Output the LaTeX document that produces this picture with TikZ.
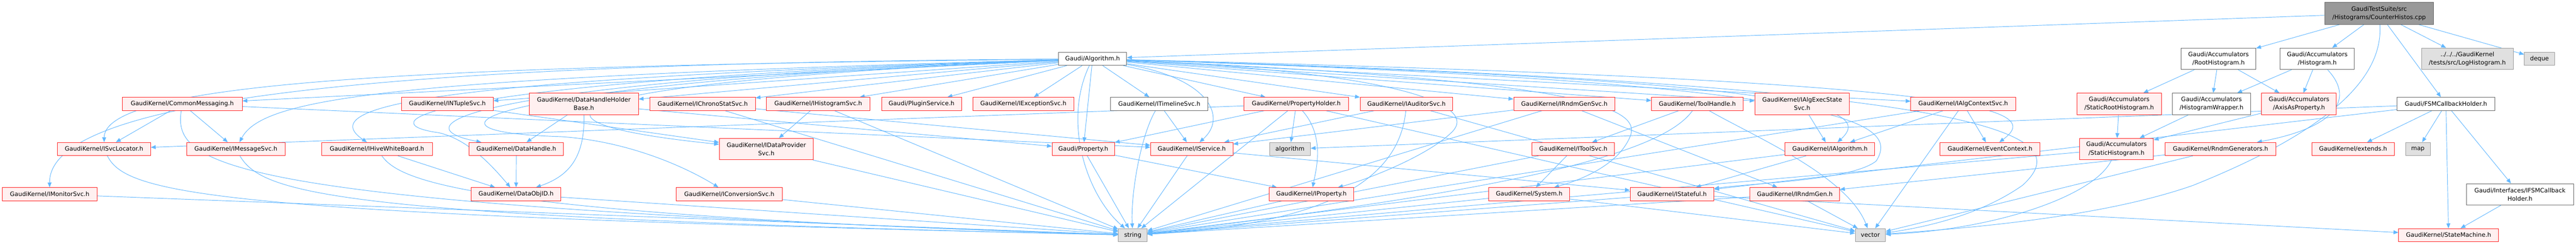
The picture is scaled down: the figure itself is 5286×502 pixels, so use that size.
\documentclass[tikz,border=0pt]{standalone}
\usepackage{fontspec}
\setmainfont{DejaVu Sans}
\usetikzlibrary{arrows.meta}
\definecolor{edgeblue}{HTML}{63B8FF}
\definecolor{truncfill}{HTML}{FFF0F0}
\definecolor{truncline}{HTML}{FF2020}
\definecolor{grayfill}{HTML}{E0E0E0}
\definecolor{grayline}{HTML}{999999}
\definecolor{darkline}{HTML}{666666}
\definecolor{rootfill}{HTML}{999999}
\pgfdeclarelayer{bg}
\pgfdeclarelayer{paper}
\pgfsetlayers{paper,bg,main}
\begin{document}
\begin{tikzpicture}[x=1pt,y=-1pt,
  nd/.style={draw, line width=1pt, inner sep=0pt, font=\fontsize{12.3}{17.3}\selectfont, align=center, text=black},
  trunc/.style={nd, draw=truncline, fill=truncfill},
  whitend/.style={nd, draw=darkline, fill=white},
  sysnd/.style={nd, draw=grayline, fill=grayfill},
  rootnd/.style={nd, draw=darkline, fill=rootfill},
  hone/.style={minimum height=27pt},
  htwo/.style={minimum height=44pt},
  edg/.style={draw=edgeblue, line width=1pt, -{Triangle[length=10pt,width=8pt]}}
]
\begin{pgfonlayer}{paper}
\fill[white] (0,0) rectangle (5286,502);
\end{pgfonlayer}
\useasboundingbox (0,0) rectangle (5286,502);

% row 0/1
\node[rootnd,minimum width=224pt,minimum height=45pt] (root) at (4882,27.5) {GaudiTestSuite/src\\/Histograms/CounterHistos.cpp};
\node[whitend,hone,minimum width=140pt] (alg) at (2242,120.5) {Gaudi/Algorithm.h};
\node[whitend,htwo,minimum width=153pt] (rooth) at (4552.5,120.5) {Gaudi/Accumulators\\/RootHistogram.h};
\node[whitend,htwo,minimum width=152pt] (histo) at (4755,120.5) {Gaudi/Accumulators\\/Histogram.h};
\node[sysnd,htwo,minimum width=188pt] (logh) at (5063,120.5) {../../../GaudiKernel\\/tests/src/LogHistogram.h};
\node[sysnd,hone,minimum width=62pt] (deque) at (5211,120.5) {deque};
% row 2
\node[trunc,hone,minimum width=246pt] (cmsg) at (374,213) {GaudiKernel/CommonMessaging.h};
\node[trunc,hone,minimum width=188pt] (ntuple) at (918,213) {GaudiKernel/INTupleSvc.h};
\node[trunc,htwo,minimum width=224pt] (dhhb) at (1198,213) {GaudiKernel/DataHandleHolder\\Base.h};
\node[trunc,hone,minimum width=216pt] (chrono) at (1442,213) {GaudiKernel/IChronoStatSvc.h};
\node[trunc,hone,minimum width=212pt] (histsvc) at (1679,213) {GaudiKernel/IHistogramSvc.h};
\node[trunc,hone,minimum width=164pt] (plugin) at (1891,213) {Gaudi/PluginService.h};
\node[trunc,hone,minimum width=208pt] (excsvc) at (2100,213) {GaudiKernel/IExceptionSvc.h};
\node[whitend,hone,minimum width=200pt] (timeline) at (2379,213) {GaudiKernel/ITimelineSvc.h};
\node[trunc,hone,minimum width=214pt] (propholder) at (2660,213) {GaudiKernel/PropertyHolder.h};
\node[trunc,hone,minimum width=190pt] (auditor) at (2886,213) {GaudiKernel/IAuditorSvc.h};
\node[trunc,hone,minimum width=208pt] (rndmsvc) at (3210,213) {GaudiKernel/IRndmGenSvc.h};
\node[trunc,hone,minimum width=188pt] (toolhandle) at (3483,213) {GaudiKernel/ToolHandle.h};
\node[trunc,htwo,minimum width=194pt] (execstate) at (3698,213) {GaudiKernel/IAlgExecState\\Svc.h};
\node[trunc,hone,minimum width=215pt] (algctx) at (4028.5,213) {GaudiKernel/IAlgContextSvc.h};
\node[trunc,htwo,minimum width=173pt] (staticroot) at (4348.5,213) {Gaudi/Accumulators\\/StaticRootHistogram.h};
\node[whitend,htwo,minimum width=160pt] (wrapper) at (4538,213) {Gaudi/Accumulators\\/HistogramWrapper.h};
\node[trunc,htwo,minimum width=153pt] (axis) at (4717.5,213) {Gaudi/Accumulators\\/AxisAsProperty.h};
\node[whitend,hone,minimum width=200pt] (fsm) at (5019,213) {Gaudi/FSMCallbackHolder.h};
% row 3
\node[trunc,hone,minimum width=191pt] (svcloc) at (213.5,305.5) {GaudiKernel/ISvcLocator.h};
\node[trunc,hone,minimum width=202pt] (msgsvc) at (484,305.5) {GaudiKernel/IMessageSvc.h};
\node[trunc,hone,minimum width=227pt] (hive) at (773.5,305.5) {GaudiKernel/IHiveWhiteBoard.h};
\node[trunc,hone,minimum width=193pt] (dhandle) at (1059.5,305.5) {GaudiKernel/DataHandle.h};
\node[trunc,htwo,minimum width=193pt] (dpsvc) at (1572.5,305.5) {GaudiKernel/IDataProvider\\Svc.h};
\node[trunc,hone,minimum width=128pt] (prop) at (2223,305.5) {Gaudi/Property.h};
\node[trunc,hone,minimum width=169pt] (service) at (2445.5,305.5) {GaudiKernel/IService.h};
\node[sysnd,hone,minimum width=84pt] (algorithm) at (2647,305.5) {algorithm};
\node[trunc,hone,minimum width=169pt] (toolsvc) at (3228.5,305.5) {GaudiKernel/IToolSvc.h};
\node[trunc,hone,minimum width=184pt] (ialg) at (3755,305.5) {GaudiKernel/IAlgorithm.h};
\node[trunc,hone,minimum width=205pt] (evctx) at (4083.5,305.5) {GaudiKernel/EventContext.h};
\node[trunc,htwo,minimum width=152pt] (statich) at (4343,305.5) {Gaudi/Accumulators\\/StaticHistogram.h};
\node[trunc,hone,minimum width=227pt] (rndmgens) at (4556.5,305.5) {GaudiKernel/RndmGenerators.h};
\node[trunc,hone,minimum width=169pt] (extends) at (4828.5,305.5) {GaudiKernel/extends.h};
\node[sysnd,hone,minimum width=51pt] (map) at (4961.5,305.5) {map};
% row 4
\node[trunc,hone,minimum width=194pt] (monsvc) at (102,398) {GaudiKernel/IMonitorSvc.h};
\node[trunc,hone,minimum width=184pt] (objid) at (1059,398) {GaudiKernel/DataObjID.h};
\node[trunc,hone,minimum width=217pt] (convsvc) at (1496.5,398) {GaudiKernel/IConversionSvc.h};
\node[trunc,hone,minimum width=174pt] (iprop) at (2691,398) {GaudiKernel/IProperty.h};
\node[trunc,hone,minimum width=166pt] (system) at (3138,398) {GaudiKernel/System.h};
\node[trunc,hone,minimum width=172pt] (stateful) at (3431,398) {GaudiKernel/IStateful.h};
\node[trunc,hone,minimum width=184pt] (rndmgen) at (3683,398) {GaudiKernel/IRndmGen.h};
\node[whitend,htwo,minimum width=220pt] (ifsm) at (5171,398.5) {Gaudi/Interfaces/IFSMCallback\\Holder.h};
% row 5
\node[sysnd,hone,minimum width=59pt] (string) at (2324.5,482) {string};
\node[sysnd,hone,minimum width=62pt] (vector) at (3838,482) {vector};
\node[trunc,hone,minimum width=205pt] (statemachine) at (5024.5,482) {GaudiKernel/StateMachine.h};

\begin{pgfonlayer}{bg}
% root
\draw[edg] (root) -- (alg);
\draw[edg] (root) -- (rooth);
\draw[edg] (root) -- (histo);
\draw[edg] (root) -- (logh);
\draw[edg] (root) -- (deque);
\draw[edg] (root) -- (fsm);
\draw[edg] (root) .. controls (4890,150) and (4800,260) .. (4500,380) .. controls (4300,450) and (4000,470) .. (vector);
% Algorithm.h
\draw[edg] (alg) .. controls (900,135) and (215,165) .. (svcloc);
\draw[edg] (alg) .. controls (800,130) and (100,200) .. (monsvc);
\draw[edg] (alg) .. controls (800,160) and (540,200) .. (msgsvc);
\draw[edg] (alg) .. controls (900,162) and (640,215) .. (hive);
\draw[edg] (alg) .. controls (900,165) and (740,250) .. (900,272) .. controls (960,285) and (1010,340) .. (objid);
\draw[edg] (alg) .. controls (1000,165) and (800,255) .. (dhandle);
\draw[edg] (alg) .. controls (1000,170) and (800,270) .. (1150,280) .. controls (1300,290) and (1420,350) .. (convsvc);
\draw[edg] (alg) .. controls (1100,170) and (1020,250) .. (dpsvc);
\draw[edg] (alg) -- (cmsg);
\draw[edg] (alg) -- (ntuple);
\draw[edg] (alg) -- (dhhb);
\draw[edg] (alg) -- (chrono);
\draw[edg] (alg) -- (histsvc);
\draw[edg] (alg) -- (plugin);
\draw[edg] (alg) -- (excsvc);
\draw[edg] (alg) -- (prop);
\draw[edg] (alg) -- (timeline);
\draw[edg] (alg) .. controls (2480,160) and (2520,240) .. (service);
\draw[edg] (alg) -- (propholder);
\draw[edg] (alg) -- (auditor);
\draw[edg] (alg) -- (rndmsvc);
\draw[edg] (alg) -- (toolhandle);
\draw[edg] (alg) -- (execstate);
\draw[edg] (alg) -- (algctx);
\draw[edg] (alg) .. controls (2900,150) and (3030,220) .. (2980,270) .. controls (2930,320) and (2800,370) .. (iprop);
\draw[edg] (alg) .. controls (3250,165) and (3370,220) .. (3345,280) .. controls (3320,340) and (3240,370) .. (system);
\draw[edg] (alg) .. controls (3700,165) and (3850,220) .. (ialg);
\draw[edg] (alg) .. controls (4050,165) and (4200,220) .. (evctx);
\draw[edg] (alg) .. controls (3800,170) and (3900,250) .. (3850,330) .. controls (3800,370) and (3600,375) .. (stateful);
\draw[edg] (alg) .. controls (4150,175) and (4260,280) .. (4150,380) .. controls (4050,450) and (3920,470) .. (vector);
\draw[edg] (alg) .. controls (2180,250) and (2230,400) .. (string);
% left part
\draw[edg] (cmsg) -- (svcloc);
\draw[edg] (cmsg) -- (msgsvc);
\draw[edg] (cmsg) -- (service);
\draw[edg] (cmsg) .. controls (355,340) and (450,420) .. (string);
\draw[edg] (svcloc) .. controls (260,400) and (450,440) .. (string);
\draw[edg] (monsvc) -- (string);
\draw[edg] (msgsvc) .. controls (540,400) and (700,445) .. (string);
\draw[edg] (hive) -- (objid);
\draw[edg] (hive) .. controls (820,370) and (950,440) .. (string);
\draw[edg] (dhhb) -- (dhandle);
\draw[edg] (dhhb) .. controls (1200,320) and (1170,360) .. (objid);
\draw[edg] (dhhb) -- (prop);
\draw[edg] (dhandle) -- (objid);
\draw[edg] (objid) -- (string);
\draw[edg] (ntuple) -- (dpsvc);
\draw[edg] (chrono) -- (service);
\draw[edg] (chrono) -- (string);
\draw[edg] (histsvc) -- (dpsvc);
\draw[edg] (histsvc) -- (string);
\draw[edg] (dpsvc) -- (string);
\draw[edg] (convsvc) -- (string);
% middle
\draw[edg] (prop) -- (iprop);
\draw[edg] (prop) -- (string);
\draw[edg] (timeline) -- (service);
\draw[edg] (timeline) .. controls (2340,280) and (2320,400) .. (string);
\draw[edg] (service) -- (stateful);
\draw[edg] (service) -- (string);
\draw[edg] (propholder) -- (prop);
\draw[edg] (propholder) -- (algorithm);
\draw[edg] (propholder) .. controls (2720,280) and (2700,350) .. (iprop);
\draw[edg] (propholder) -- (string);
\draw[edg] (propholder) -- (vector);
\draw[edg] (propholder) -- (svcloc);
\draw[edg] (auditor) -- (service);
\draw[edg] (auditor) .. controls (2870,380) and (2700,460) .. (string);
\draw[edg] (auditor) -- (vector);
\draw[edg] (iprop) -- (string);
\draw[edg] (rndmsvc) -- (service);
\draw[edg] (rndmsvc) -- (rndmgen);
\draw[edg] (rndmsvc) -- (string);
\draw[edg] (toolhandle) -- (toolsvc);
\draw[edg] (toolhandle) .. controls (3420,300) and (3200,380) .. (string);
\draw[edg] (toolhandle) .. controls (3600,280) and (3790,360) .. (vector);
\draw[edg] (toolsvc) -- (system);
\draw[edg] (toolsvc) -- (string);
\draw[edg] (system) -- (string);
\draw[edg] (system) -- (vector);
\draw[edg] (stateful) -- (string);
\draw[edg] (stateful) -- (statemachine);
% right part
\draw[edg] (execstate) -- (ialg);
\draw[edg] (algctx) -- (ialg);
\draw[edg] (algctx) -- (evctx);
\draw[edg] (algctx) -- (vector);
\draw[edg] (algctx) -- (string);
\draw[edg] (ialg) -- (stateful);
\draw[edg] (ialg) -- (string);
\draw[edg] (rndmgen) -- (vector);
\draw[edg] (rndmgen) -- (string);
\draw[edg] (rndmgens) -- (rndmgen);
\draw[edg] (rndmgens) -- (vector);
\draw[edg] (staticroot) -- (statich);
\draw[edg] (statich) .. controls (4300,400) and (4100,470) .. (vector);
\draw[edg] (statich) -- (string);
\draw[edg] (rooth) -- (staticroot);
\draw[edg] (rooth) -- (wrapper);
\draw[edg] (rooth) -- (axis);
\draw[edg] (histo) -- (wrapper);
\draw[edg] (histo) -- (axis);
\draw[edg] (histo) .. controls (4830,200) and (4800,260) .. (rndmgens);
\draw[edg] (wrapper) -- (statich);
\draw[edg] (axis) -- (statich);
\draw[edg] (fsm) -- (extends);
\draw[edg] (fsm) -- (map);
\draw[edg] (fsm) -- (statemachine);
\draw[edg] (fsm) -- (ifsm);
\draw[edg] (fsm) -- (algorithm);
\draw[edg] (fsm) -- (stateful);
\draw[edg] (ifsm) -- (statemachine);
\end{pgfonlayer}
\end{tikzpicture}
\end{document}
